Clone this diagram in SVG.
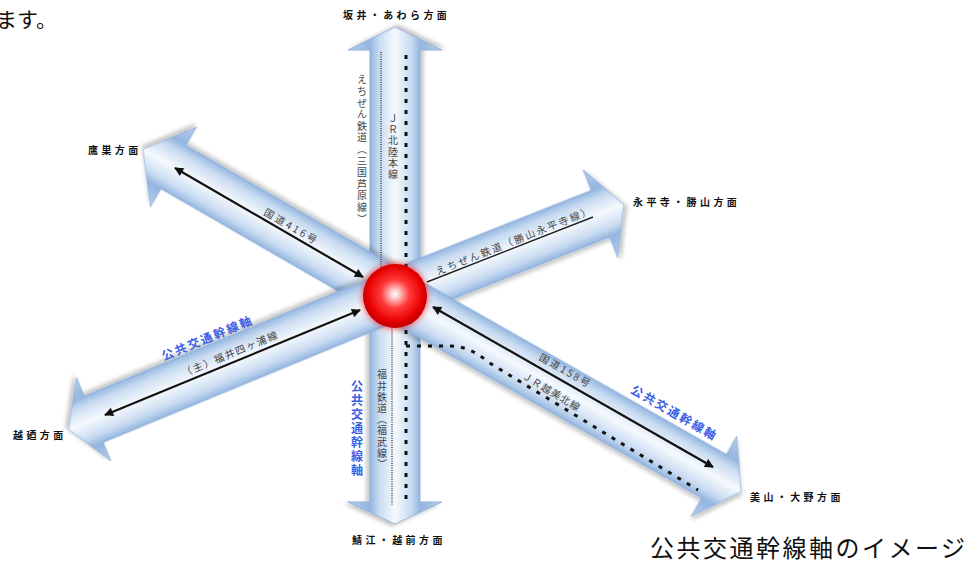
<svg xmlns="http://www.w3.org/2000/svg" width="974" height="566" viewBox="0 0 974 566">
<defs>
<linearGradient id="shaft" gradientUnits="userSpaceOnUse" x1="0" y1="-47" x2="0" y2="47">
<stop offset="0" stop-color="#b9d0ec"/>
<stop offset="0.234" stop-color="#94b5df"/>
<stop offset="0.33" stop-color="#c8dbf1"/>
<stop offset="0.5" stop-color="#f5f9fd"/>
<stop offset="0.67" stop-color="#c8dbf1"/>
<stop offset="0.766" stop-color="#94b5df"/>
<stop offset="1" stop-color="#b9d0ec"/>
</linearGradient>
<radialGradient id="ball" cx="0.5" cy="0.47" r="0.5">
<stop offset="0" stop-color="#ffffff"/>
<stop offset="0.15" stop-color="#ffc4c4"/>
<stop offset="0.45" stop-color="#ff3a3a"/>
<stop offset="0.85" stop-color="#e80000"/>
<stop offset="1" stop-color="#c80000"/>
</radialGradient>
<filter id="shadow" x="-10%" y="-10%" width="130%" height="130%">
<feGaussianBlur in="SourceAlpha" stdDeviation="2"/>
<feOffset dx="2" dy="3"/>
<feComponentTransfer><feFuncA type="linear" slope="0.25"/></feComponentTransfer>
<feMerge><feMergeNode/><feMergeNode in="SourceGraphic"/></feMerge>
</filter>
<filter id="glow" x="-50%" y="-50%" width="200%" height="200%">
<feGaussianBlur stdDeviation="2.5"/>
</filter>
<marker id="ah" viewBox="0 0 10 10" refX="9" refY="5" markerUnits="userSpaceOnUse" markerWidth="12" markerHeight="9" orient="auto-start-reverse">
<path d="M0,0 L10,5 L0,10 Z" fill="#111"/>
</marker>
</defs>
<style>
.arrow{fill:url(#shaft);stroke:#86a9d6;stroke-width:0.8;filter:url(#shadow)}
.lbl{font-family:"Noto Sans CJK JP","Noto Sans",sans-serif;font-size:10px;font-weight:bold;fill:#111;letter-spacing:3.4px}
.in{font-family:"Noto Sans CJK JP","Noto Sans",sans-serif;font-size:10px;fill:#444;text-anchor:middle;dominant-baseline:central}
.blue{font-family:"Noto Sans CJK JP","Noto Sans",sans-serif;font-size:12px;font-weight:bold;fill:#3d5fe6;text-anchor:middle;dominant-baseline:central;letter-spacing:2px}
.vt{writing-mode:vertical-rl}
.dbl{stroke:#111;stroke-width:2.2;fill:none;marker-start:url(#ah);marker-end:url(#ah)}
.dash{stroke:#111;stroke-width:3;fill:none;stroke-dasharray:4 7}
.dot{stroke:#222;stroke-width:1.2;fill:none;stroke-dasharray:1 1.3}
.cap{font-family:"Noto Sans CJK JP","Noto Sans",sans-serif;fill:#111}
</style>
<rect width="974" height="566" fill="#ffffff"/>
<text class="cap" x="-4" y="27" font-size="21">ます。</text>

<g id="arrow-up"><polygon class="arrow" transform="translate(395,295) rotate(-90)" points="0,-25 245,-25 245,-47 268,0 245,47 245,25 0,25"/></g>
<g id="arrow-down"><polygon class="arrow" transform="translate(395,295) rotate(90)" points="0,-25 207,-25 207,-47 229,0 207,47 207,25 0,25"/></g>
<g id="arrow-upleft"><polygon class="arrow" transform="translate(395,295) rotate(210)" points="0,-25 256,-25 256,-46 291,0 256,46 256,25 0,25"/></g>
<g id="arrow-right"><polygon class="arrow" transform="translate(395,295) rotate(-21.6)" points="0,-25 221,-25 221,-47 246,0 221,47 221,25 0,25"/></g>
<g id="arrow-downright"><polygon class="arrow" transform="translate(395,295) rotate(29.6)" points="0,-25 367,-25 367,-46 398,0 367,46 367,25 0,25"/></g>
<g id="arrow-downleft"><polygon class="arrow" transform="translate(395,295) rotate(157.6)" points="0,-25 326,-25 326,-45 353,0 326,45 326,25 0,25"/></g>

<g id="connectors">
<line class="dot" x1="381" y1="52" x2="381" y2="268"/>
<line class="dot" x1="392" y1="325" x2="392" y2="505"/>
<line class="dash" x1="406" y1="55" x2="406" y2="504"/>
<path class="dash" d="M406,346 L450,346 Q470,346 488,362 L698,490" stroke-dasharray="5 6"/>
<line class="dbl" x1="175" y1="168" x2="363" y2="277"/>
<line class="dbl" x1="105" y1="415" x2="360" y2="310"/>
<line class="dbl" x1="433" y1="307" x2="713" y2="467"/>
<line x1="427" y1="282" x2="593" y2="217" stroke="#222" stroke-width="1.4"/>
</g>

<g id="hub">
<circle cx="395" cy="296" r="34" fill="#ff2020" opacity="0.5" filter="url(#glow)"/>
<circle cx="395" cy="296" r="32" fill="url(#ball)"/>
</g>

<g id="labels-dir">
<text class="lbl" x="343" y="19">坂井・あわら方面</text>
<text class="lbl" x="88" y="154">鷹巣方面</text>
<text class="lbl" x="633" y="206">永平寺・勝山方面</text>
<text class="lbl" x="13" y="439">越廼方面</text>
<text class="lbl" x="352" y="544">鯖江・越前方面</text>
<text class="lbl" x="750" y="501">美山・大野方面</text>
</g>

<g id="labels-lines">
<text class="in vt" x="362" y="150" font-size="10.5" letter-spacing="1.6">えちぜん鉄道（三国芦原線）</text>
<text class="in vt" x="393" y="147" letter-spacing="1.3">ＪＲ北陸本線</text>
<text class="in vt" x="382" y="420" letter-spacing="1.2">福井鉄道（福武線）</text>
<text class="in" transform="translate(292,226) rotate(30)" letter-spacing="2.5">国道416号</text>
<text class="in" transform="translate(514,240) rotate(-21.7)" letter-spacing="2">えちぜん鉄道（勝山永平寺線）</text>
<text class="in" transform="translate(230,353) rotate(-22.4)" letter-spacing="1.5">（主）福井四ヶ浦線</text>
<text class="in" transform="translate(566,370) rotate(29.7)" letter-spacing="2">国道158号</text>
<text class="in" transform="translate(552,391) rotate(31)" font-size="9" letter-spacing="1">ＪＲ越美北線</text>
<text class="blue" transform="translate(207,337) rotate(-22.4)">公共交通幹線軸</text>
<text class="blue" transform="translate(675,412) rotate(30)">公共交通幹線軸</text>
<text class="blue vt" x="357" y="429" letter-spacing="2.5">公共交通幹線軸</text>
</g>

<text class="cap" x="650" y="557" font-size="24" letter-spacing="2.5">公共交通幹線軸のイメージ</text>
</svg>
